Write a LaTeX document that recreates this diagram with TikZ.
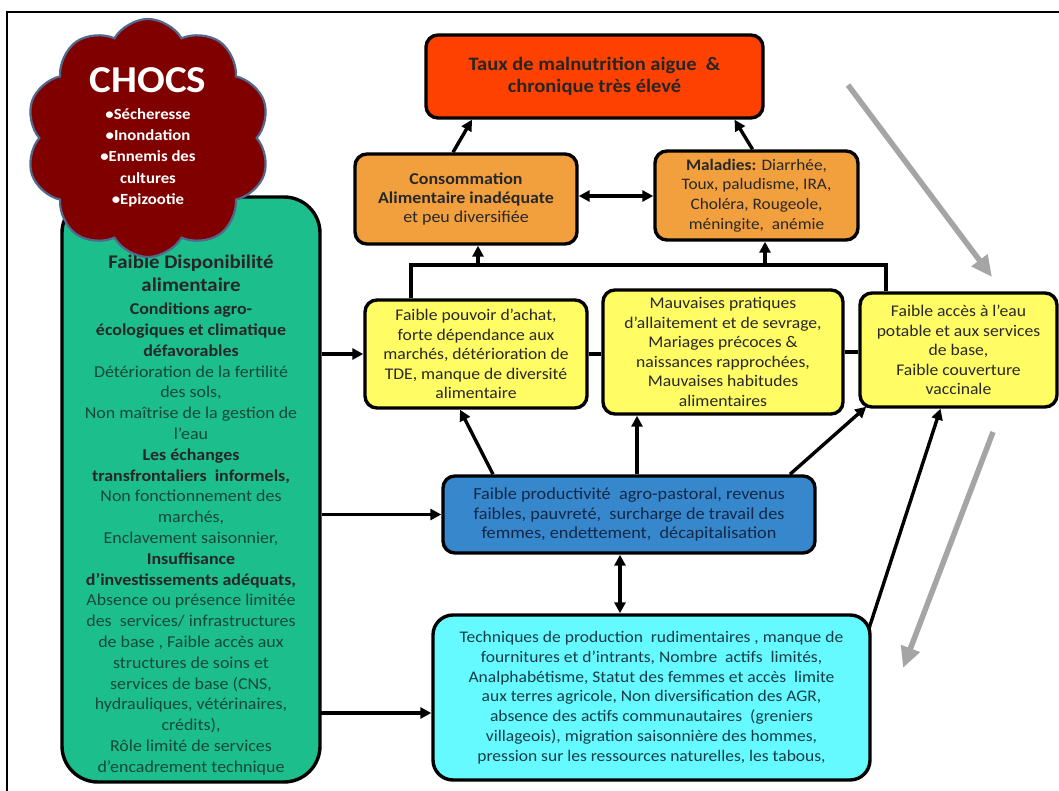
\documentclass[tikz,border=0pt]{standalone}
\usepackage{fontspec}
\setmainfont{Carlito}[FakeStretch=1.08]
\usetikzlibrary{shapes.symbols,arrows.meta,calc}
\definecolor{gfill}{RGB}{28,190,140}
\definecolor{gtext}{RGB}{22,72,56}
\definecolor{redfill}{RGB}{255,65,0}
\definecolor{orfill}{RGB}{242,160,62}
\definecolor{yefill}{RGB}{255,252,100}
\definecolor{blfill}{RGB}{55,135,205}
\definecolor{bltext}{RGB}{20,40,70}
\definecolor{cyfill}{RGB}{100,250,255}
\definecolor{cytext}{RGB}{25,60,70}
\definecolor{cloudfill}{RGB}{128,0,0}
\definecolor{cloudline}{RGB}{80,105,140}
\definecolor{grayarr}{RGB}{165,165,165}
\definecolor{dtext}{RGB}{40,40,40}
\tikzset{
  box/.style={draw=black, line width=3.4pt, rounded corners=12pt, align=center, inner sep=0pt},
  line/.style={draw=black, line width=3.4pt},
  arr/.style={line, -{Triangle[length=11pt,width=11pt]}},
  darr/.style={line, {Triangle[length=11pt,width=11pt]}-{Triangle[length=11pt,width=11pt]}},
  garr/.style={draw=grayarr, line width=5.5pt, -{Triangle[length=21pt,width=19pt]}},
}
\begin{document}
\begin{tikzpicture}[x=1pt,y=-1pt]
\useasboundingbox (0,0) rectangle (1059,791);
\fill[white] (0,0) rectangle (1059,791);
% frame
\draw[black, line width=1.6pt] (1059,12) -- (7,12) -- (7,791);

% green box
\node[box, fill=gfill, rounded corners=36pt, minimum width=258pt, minimum height=585pt] (green) at (191,489.5) {};
\node[anchor=north, align=center, text=gtext, font=\fontsize{16.6}{20.8}\selectfont] (gtxt) at (191,251) {%
{\color{black!85}\bfseries\fontsize{19.3}{20.8}\selectfont Faible Disponibilité}\\[3pt]
{\color{black!85}\bfseries\fontsize{19.3}{20.8}\selectfont alimentaire}\\[2pt]
{\color{black!85}\bfseries Conditions agro-}\\
{\color{black!85}\bfseries écologiques et climatique}\\
{\color{black!85}\bfseries défavorables}\\
Détérioration de la fertilité\\
des sols,\\
Non maîtrise de la gestion de\\
l’eau\\
{\color{black!85}\bfseries Les échanges}\\
{\color{black!85}\bfseries transfrontaliers\ \ informels,}\\
Non fonctionnement des\\
marchés,\\
Enclavement saisonnier,\\
{\color{black!85}\bfseries Insuffisance}\\
{\color{black!85}\bfseries d’investissements adéquats,}\\
Absence ou présence limitée\\
des\ \ services/ infrastructures\\
de base , Faible accès aux\\
structures de soins et\\
services de base (CNS,\\
hydrauliques, vétérinaires,\\
crédits),\\
Rôle limité de services\\
d’encadrement technique};

% cloud
\node[cloud, cloud puffs=10, cloud puff arc=120, aspect=1.03, draw=cloudline, line width=2.2pt, fill=cloudfill, minimum width=244pt, minimum height=238pt] (chocs) at (148,138) {};
\node[text=white, font=\bfseries\fontsize{38}{40}\selectfont] (chocst) at (148,80) {CHOCS};
\node[anchor=north, text=white, align=center, font=\bfseries\fontsize{15.5}{21.2}\selectfont] (chocsl) at (148,105) {%
\textbullet Sécheresse\\ \textbullet Inondation\\ \textbullet Ennemis des\\ cultures\\ \textbullet Epizootie};

% top boxes
\node[box, fill=redfill, minimum width=337pt, minimum height=83pt, font=\bfseries\fontsize{19}{22}\selectfont, text=black!85] (red) at (594.5,76.5) {Taux de malnutrition aigue\ \ \&\\ chronique très élevé};
\node[box, fill=orfill, minimum width=222pt, minimum height=90pt, font=\fontsize{16.6}{19}\selectfont, text=dtext] (cons) at (466,199) {{\bfseries Consommation}\\ {\bfseries Alimentaire inadéquate}\\ et peu diversifiée};
\node[box, fill=orfill, minimum width=203pt, minimum height=89pt, font=\fontsize{16}{19.7}\selectfont, text=dtext] (mal) at (756.5,195.5) {{\bfseries Maladies:} Diarrhée,\\ Toux, paludisme, IRA,\\ Choléra, Rougeole,\\ méningite,\ \ anémie};

% yellow boxes
\node[box, fill=yefill, minimum width=222pt, minimum height=108pt, font=\fontsize{16.3}{19.4}\selectfont, text=dtext] (y1) at (476,354) {Faible pouvoir d’achat,\\ forte dépendance aux\\ marchés, détérioration de\\ TDE, manque de diversité\\ alimentaire};
\node[box, fill=yefill, minimum width=240pt, minimum height=124pt, font=\fontsize{16.3}{19.6}\selectfont, text=dtext] (y2) at (723,352) {Mauvaises pratiques\\ d’allaitement et de sevrage,\\ Mariages précoces \&\\ naissances rapprochées,\\ Mauvaises habitudes\\ alimentaires};
\node[box, fill=yefill, minimum width=197pt, minimum height=114pt, font=\fontsize{16.3}{19.6}\selectfont, text=dtext] (y3) at (958.5,350) {Faible accès à l’eau\\ potable et aux services\\ de base,\\ Faible couverture\\ vaccinale};

% blue and cyan
\node[box, fill=blfill, minimum width=372pt, minimum height=77pt, font=\fontsize{16.9}{19.5}\selectfont, text=bltext] (blue) at (629,514.5) {Faible productivité\ \ agro-pastoral, revenus\\ faibles, pauvreté,\ \ surcharge de travail des\\ femmes, endettement,\ \ décapitalisation};
\node[box, fill=cyfill, rounded corners=20pt, minimum width=437pt, minimum height=165pt, font=\fontsize{16.2}{19.8}\selectfont, text=cytext] (cyan) at (651.5,697.5) {Techniques de production\ \ rudimentaires , manque de\\ fournitures et d’intrants, Nombre\ \ actifs\ \ limités,\\ Analphabétisme, Statut des femmes et accès\ \ limite\\ aux terres agricole, Non diversification des AGR,\\ absence des actifs communautaires\ \ (greniers\\ villageois), migration saisonnière des hommes,\\ pression sur les ressources naturelles, les tabous,};

% connectors top
\draw[arr] ($(cons.north)+(-13,0)$) -- ($(red.south)+(-122.5,0)$);
\draw[arr] ($(mal.north)+(-4,0)$) -- ($(red.south)+(140,0)$);
\draw[darr] (cons.east |- 0,196) -- (mal.west |- 0,196);

% bracket
\coordinate (bl) at (411,265);
\coordinate (br) at (886,265);
\coordinate (b1) at (478,265);
\coordinate (b2) at (765,265);
\draw[line] (bl |- y1.north) -- (bl) -- (br) -- (br |- y3.north);
\draw[arr] (b1) -- (b1 |- cons.south);
\draw[arr] (b2) -- (b2 |- mal.south);

% yellow links
\draw[line] (y1.east) -- (y1.east -| y2.west);
\draw[line] (y2.east) -- (y2.east -| y3.west);

% green arrows
\coordinate (gc) at (320,713);
\draw[arr] (green.east |- y1.west) -- (y1.west);
\draw[arr] (green.east |- blue.west) -- (blue.west);
\draw[arr] (gc) -- (gc -| cyan.west);

% blue arrows
\draw[arr] ($(blue.north)+(-136,0)$) -- ($(y1.south)+(-16,0)$);
\draw[arr] (blue.north -| 637,0) -- (y2.south -| 637,0);
\draw[arr] ($(blue.north)+(161,0)$) -- ($(y3.south west)+(8,-2)$);
\draw[darr] (blue.south -| 620,0) -- (cyan.north -| 620,0);
\draw[arr] ($(cyan.north east)+(-3,16)$) -- ($(y3.south)+(-18,0)$);

% gray arrows
\coordinate (g1a) at (848,85);
\coordinate (g1b) at (992,277);
\coordinate (g2a) at (993,432);
\coordinate (g2b) at (903,668);
\draw[garr] (g1a) -- (g1b);
\draw[garr] (g2a) -- (g2b);
\end{tikzpicture}
\end{document}
